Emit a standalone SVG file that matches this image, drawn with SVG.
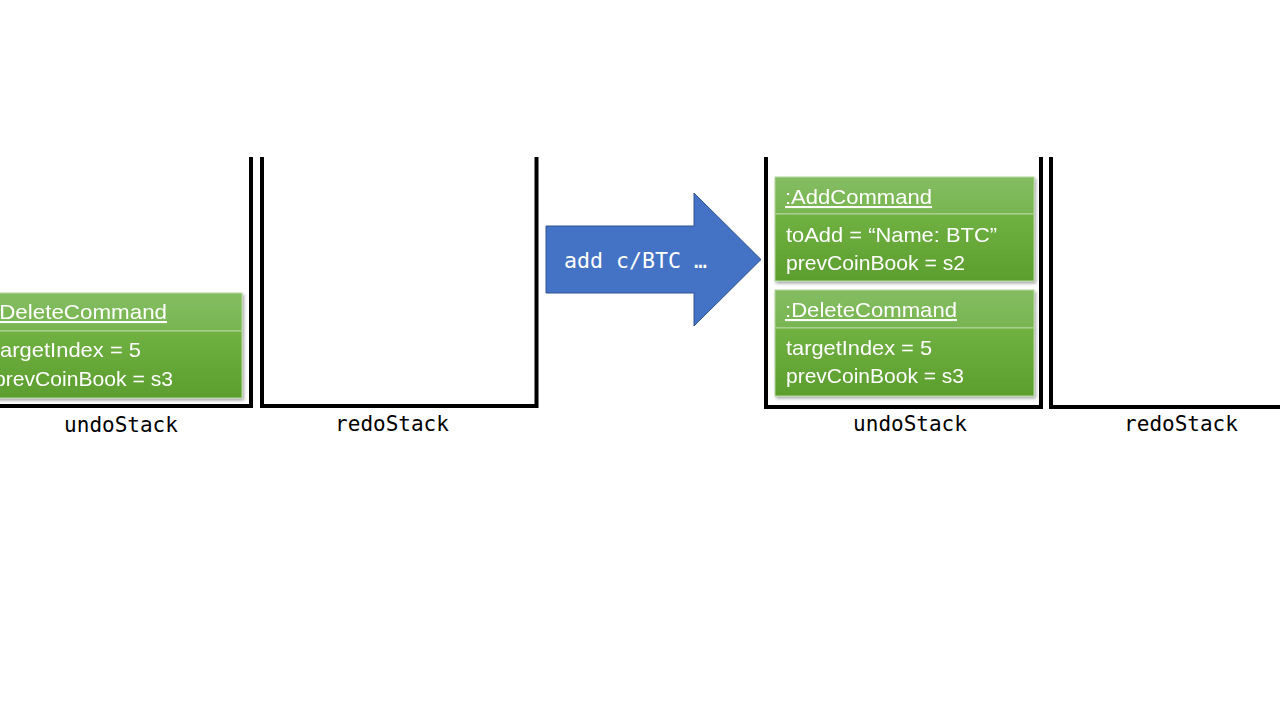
<svg xmlns="http://www.w3.org/2000/svg" width="1280" height="720" viewBox="0 0 1280 720">
<style>
.wall{fill:none;stroke:#000;stroke-width:4;stroke-linejoin:miter;stroke-linecap:butt}
.lbl{font-family:"DejaVu Sans Mono","Liberation Mono",monospace;font-size:21px;fill:#000;text-anchor:middle}
.hdr{fill:url(#gh);stroke:#B5D6A0;stroke-width:1}
.body{fill:url(#gb);stroke:#B5D6A0;stroke-width:1}
.t{font-family:"Liberation Sans","Noto Sans",sans-serif;font-size:21px;fill:#fff}
.u{text-decoration:underline}
.cmd{font-family:"DejaVu Sans Mono","Liberation Mono",monospace;font-size:21px;fill:#fff}
</style>
<defs>
<linearGradient id="gh" x1="0" y1="0" x2="0" y2="1">
<stop offset="0" stop-color="#84BD62"/>
<stop offset="1" stop-color="#78B550"/>
</linearGradient>
<linearGradient id="gb" x1="0" y1="0" x2="0" y2="1">
<stop offset="0" stop-color="#70B142"/>
<stop offset="1" stop-color="#5C9E2E"/>
</linearGradient>
<filter id="sh" x="-10%" y="-10%" width="120%" height="130%">
<feDropShadow dx="1.5" dy="2" stdDeviation="1.5" flood-color="#000" flood-opacity="0.35"/>
</filter>
</defs>
<rect width="1280" height="720" fill="#fff"/>

<g id="undoStackLeft">
<path class="wall" d="M0 406 H251 V157"/>
<text class="lbl" x="121" y="432">undoStack</text>
</g>
<g id="redoStackLeft">
<path class="wall" d="M262 157 V406 H536.5 V157"/>
<text class="lbl" x="392" y="431">redoStack</text>
</g>
<g id="undoStackRight">
<path class="wall" d="M766 157 V407 H1041 V157"/>
<text class="lbl" x="910" y="431">undoStack</text>
</g>
<g id="redoStackRight">
<path class="wall" d="M1051 157 V407 H1280"/>
<text class="lbl" x="1181" y="431">redoStack</text>
</g>

<g id="deleteCommandLeft" filter="url(#sh)">
<rect class="hdr" x="-17" y="293" width="259" height="38"/>
<rect class="body" x="-17" y="331" width="259" height="67"/>
<text class="t u" x="-7" y="319" textLength="174" lengthAdjust="spacingAndGlyphs">:DeleteCommand</text>
<text class="t" x="-6" y="357" textLength="147" lengthAdjust="spacingAndGlyphs">targetIndex = 5</text>
<text class="t" x="-6" y="386" textLength="179" lengthAdjust="spacingAndGlyphs">prevCoinBook = s3</text>
</g>

<g id="addCommand" filter="url(#sh)">
<rect class="hdr" x="775" y="177" width="259" height="37"/>
<rect class="body" x="775" y="214" width="259" height="67"/>
<text class="t u" x="785" y="204" textLength="147" lengthAdjust="spacingAndGlyphs">:AddCommand</text>
<text class="t" x="786" y="242" textLength="211" lengthAdjust="spacingAndGlyphs">toAdd = “Name: BTC”</text>
<text class="t" x="786" y="270" textLength="179" lengthAdjust="spacingAndGlyphs">prevCoinBook = s2</text>
</g>

<g id="deleteCommandRight" filter="url(#sh)">
<rect class="hdr" x="775" y="290" width="259" height="38"/>
<rect class="body" x="775" y="328" width="259" height="68"/>
<text class="t u" x="785" y="317" textLength="172" lengthAdjust="spacingAndGlyphs">:DeleteCommand</text>
<text class="t" x="786" y="355" textLength="146" lengthAdjust="spacingAndGlyphs">targetIndex = 5</text>
<text class="t" x="786" y="383" textLength="178" lengthAdjust="spacingAndGlyphs">prevCoinBook = s3</text>
</g>

<g id="connectors">
<g id="addArrow">
<polygon points="546,226 694,226 694,193 761,259.5 694,326 694,293 546,293" fill="#4472C4" stroke="#2F528F" stroke-width="1"/>
<text class="cmd" x="564" y="268" textLength="143" lengthAdjust="spacingAndGlyphs">add c/BTC …</text>
</g>
</g>
</svg>
